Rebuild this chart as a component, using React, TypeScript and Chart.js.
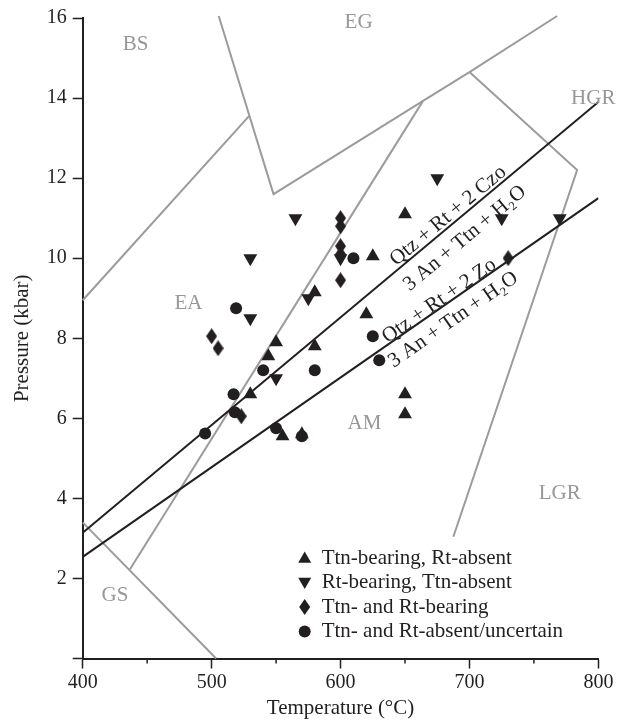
import React, { useEffect, useRef } from 'react';
import { Chart, registerables } from 'chart.js';
Chart.register(...registerables);

// ---- axes ----
const xTickValues = [400, 500, 600, 700, 800];
const xMinorTickValues = [450, 550, 650, 750];
const yTickValues = [0, 2, 4, 6, 8, 10, 12, 14, 16];

// ---- samples (Temperature °C, Pressure kbar) ----
const ttnBearingRtAbsent = [
  { x: 650, y: 11.1 }, { x: 625, y: 10.05 }, { x: 620, y: 8.6 }, { x: 550, y: 7.9 },
  { x: 580, y: 7.8 }, { x: 580, y: 9.15 }, { x: 544, y: 7.55 }, { x: 530, y: 6.6 },
  { x: 555, y: 5.55 }, { x: 570, y: 5.6 }, { x: 650, y: 6.6 }, { x: 650, y: 6.1 },
];
const rtBearingTtnAbsent = [
  { x: 675, y: 12.0 }, { x: 565, y: 11.0 }, { x: 600, y: 10.0 }, { x: 530, y: 10.0 },
  { x: 575, y: 9.0 }, { x: 530, y: 8.5 }, { x: 550, y: 7.0 }, { x: 725, y: 11.0 },
  { x: 770, y: 11.0 },
];
const ttnAndRtBearing = [
  { x: 600, y: 11.0 }, { x: 600, y: 10.8 }, { x: 600, y: 10.3 }, { x: 600, y: 10.1 },
  { x: 600, y: 9.45 }, { x: 500, y: 8.05 }, { x: 505, y: 7.75 }, { x: 523, y: 6.05 },
  { x: 730, y: 10.0 },
];
const ttnAndRtAbsent = [
  { x: 610, y: 10.0 }, { x: 519, y: 8.75 }, { x: 625, y: 8.05 }, { x: 540, y: 7.2 },
  { x: 580, y: 7.2 }, { x: 630, y: 7.45 }, { x: 517, y: 6.6 }, { x: 518, y: 6.15 },
  { x: 495, y: 5.62 }, { x: 550, y: 5.75 }, { x: 570, y: 5.55 },
];

// ---- reaction lines ----
const czoReaction = [{ x: 400, y: 3.14 }, { x: 800, y: 13.9 }];
const zoReaction = [{ x: 400, y: 2.54 }, { x: 800, y: 11.5 }];

// ---- facies boundaries ----
const bsEaBoundary = [{ x: 400, y: 8.95 }, { x: 529, y: 13.55 }];
const egBoundary = [
  { x: 505.5, y: 16.05 }, { x: 548, y: 11.6 }, { x: 664, y: 13.93 },
  { x: 700, y: 14.65 }, { x: 768, y: 16.05 },
];
const hgrBoundary = [{ x: 700, y: 14.65 }, { x: 783.5, y: 12.2 }, { x: 687.5, y: 3.04 }];
const eaAmBoundary = [{ x: 664, y: 13.93 }, { x: 436.7, y: 2.23 }];
const gsBoundary = [{ x: 400, y: 3.4 }, { x: 503.5, y: 0 }];

// ---- facies names ----
const faciesNames = ['BS', 'EG', 'HGR', 'EA', 'AM', 'LGR', 'GS'];
const faciesT = [441, 614, 796, 482, 618.5, 770, 425];
const faciesP = [15.34, 15.9, 13.98, 8.87, 5.88, 4.13, 1.58];

// ---- legend ----
const legendLabels = [
  'Ttn-bearing, Rt-absent',
  'Rt-bearing, Ttn-absent',
  'Ttn- and Rt-bearing',
  'Ttn- and Rt-absent/uncertain',
];

const DARK = '#231f20';
const GRAY = '#9b9b9b';
const LABEL_GRAY = '#979797';
const FONT = '"Liberation Serif", "Times New Roman", serif';

function makeDiamond(w: number, h: number) {
  const c = document.createElement('canvas');
  c.width = w;
  c.height = h;
  const ctx = c.getContext('2d')!;
  ctx.fillStyle = DARK;
  ctx.beginPath();
  ctx.moveTo(w / 2, 0);
  ctx.lineTo(w, h / 2);
  ctx.lineTo(w / 2, h);
  ctx.lineTo(0, h / 2);
  ctx.closePath();
  ctx.fill();
  return c;
}

function drawMarker(ctx: CanvasRenderingContext2D, kind: number, x: number, y: number) {
  ctx.save();
  ctx.fillStyle = DARK;
  ctx.beginPath();
  if (kind === 0) {
    const r = 7.5;
    ctx.moveTo(x, y - r);
    ctx.lineTo(x + r * 0.866, y + r / 2);
    ctx.lineTo(x - r * 0.866, y + r / 2);
  } else if (kind === 1) {
    const r = 7.5;
    ctx.moveTo(x, y + r);
    ctx.lineTo(x + r * 0.866, y - r / 2);
    ctx.lineTo(x - r * 0.866, y - r / 2);
  } else if (kind === 2) {
    ctx.moveTo(x, y - 8);
    ctx.lineTo(x + 5.5, y);
    ctx.lineTo(x, y + 8);
    ctx.lineTo(x - 5.5, y);
  } else {
    ctx.arc(x, y, 6, 0, Math.PI * 2);
  }
  ctx.closePath();
  ctx.fill();
  ctx.restore();
}

const annotationPlugin = {
  id: 'annotations',
  afterDraw(chart: any) {
    const { ctx, chartArea } = chart;
    const xs = chart.scales.x;
    const ys = chart.scales.y;

    // minor ticks on the x axis
    ctx.save();
    ctx.strokeStyle = DARK;
    ctx.lineWidth = 1.5;
    xMinorTickValues.forEach((v) => {
      const px = xs.getPixelForValue(v);
      ctx.beginPath();
      ctx.moveTo(px, chartArea.bottom);
      ctx.lineTo(px, chartArea.bottom + 5);
      ctx.stroke();
    });
    ctx.restore();

    // facies names
    ctx.save();
    ctx.font = `21px ${FONT}`;
    ctx.fillStyle = LABEL_GRAY;
    ctx.textAlign = 'center';
    ctx.textBaseline = 'middle';
    faciesNames.forEach((n, i) => {
      ctx.fillText(n, xs.getPixelForValue(faciesT[i]), ys.getPixelForValue(faciesP[i]));
    });
    ctx.restore();

    // reaction labels along the lines
    const reactionLabel = (line: { x: number; y: number }[], t: number, text: string, d: number) => {
      const p0 = line[0];
      const p1 = line[line.length - 1];
      const x0 = xs.getPixelForValue(p0.x);
      const y0 = ys.getPixelForValue(p0.y);
      const x1 = xs.getPixelForValue(p1.x);
      const y1 = ys.getPixelForValue(p1.y);
      const angle = Math.atan2(y1 - y0, x1 - x0);
      const pv = p0.y + ((t - p0.x) * (p1.y - p0.y)) / (p1.x - p0.x);
      ctx.save();
      ctx.translate(xs.getPixelForValue(t), ys.getPixelForValue(pv));
      ctx.rotate(angle);
      ctx.font = `21px ${FONT}`;
      ctx.fillStyle = DARK;
      ctx.textAlign = 'center';
      ctx.textBaseline = 'middle';
      ctx.fillText(text, 0, -d);
      ctx.restore();
    };
    reactionLabel(czoReaction, 688, 'Qtz + Rt + 2 Czo', 9);
    reactionLabel(czoReaction, 687, '3 An + Ttn + H\u2082O', -19);
    reactionLabel(zoReaction, 679.5, 'Qtz + Rt + 2 Zo', 6.5);
    reactionLabel(zoReaction, 680, '3 An + Ttn + H\u2082O', -17);

    // legend
    ctx.save();
    ctx.font = `21px ${FONT}`;
    ctx.fillStyle = DARK;
    ctx.textAlign = 'left';
    ctx.textBaseline = 'middle';
    const lx = chartArea.left + 222;
    const ly = chartArea.top + 540;
    legendLabels.forEach((lbl, i) => {
      const y = ly + i * 24.5;
      drawMarker(ctx, i, lx, y + (i === 0 ? 1 : i === 1 ? -1 : 0));
      ctx.fillStyle = DARK;
      ctx.fillText(lbl, lx + 17, y);
    });
    ctx.restore();
  },
};

export default function App() {
  const canvasRef = useRef<HTMLCanvasElement | null>(null);

  useEffect(() => {
    const canvas = canvasRef.current;
    if (!canvas) return;
    const diamond = makeDiamond(11, 16);
    const grayLine = (data: { x: number; y: number }[]) => ({
      type: 'line' as const,
      data,
      borderColor: GRAY,
      borderWidth: 2,
      pointRadius: 0,
      showLine: true,
      fill: false,
      clip: false as any,
      order: 5,
    });
    const blackLine = (data: { x: number; y: number }[]) => ({
      type: 'line' as const,
      data,
      borderColor: DARK,
      borderWidth: 2,
      pointRadius: 0,
      showLine: true,
      fill: false,
      order: 4,
    });
    const pointSet = (label: string, data: { x: number; y: number }[], style: any, radius: number, rotation = 0) => ({
      label,
      data,
      pointStyle: style,
      pointRadius: radius,
      pointRotation: rotation,
      pointBackgroundColor: DARK,
      pointBorderColor: DARK,
      pointBorderWidth: 0,
      showLine: false,
      order: 1,
    });

    const chart = new Chart(canvas, {
      type: 'scatter',
      data: {
        datasets: [
          grayLine(bsEaBoundary),
          grayLine(egBoundary),
          grayLine(hgrBoundary),
          grayLine(eaAmBoundary),
          grayLine(gsBoundary),
          blackLine(czoReaction),
          blackLine(zoReaction),
          pointSet(legendLabels[0], ttnBearingRtAbsent, 'triangle', 8),
          pointSet(legendLabels[1], rtBearingTtnAbsent, 'triangle', 8, 180),
          pointSet(legendLabels[2], ttnAndRtBearing, diamond, 8),
          pointSet(legendLabels[3], ttnAndRtAbsent, 'circle', 6),
        ] as any,
      },
      options: {
        responsive: false,
        animation: false,
        devicePixelRatio: 1,
        layout: { padding: { top: 16.4, right: 18.6, left: 0, bottom: 0 } },
        plugins: { legend: { display: false }, tooltip: { enabled: false } },
        scales: {
          x: {
            type: 'linear',
            min: 400,
            max: 800,
            afterBuildTicks: (s: any) => {
              s.ticks = xTickValues.map((v) => ({ value: v }));
            },
            afterFit: (s: any) => {
              s.height = 63.5;
            },
            ticks: { font: { family: FONT, size: 20 }, color: DARK, padding: 2, maxRotation: 0 },
            grid: { drawOnChartArea: false, drawTicks: true, tickLength: 10, tickColor: DARK, tickWidth: 1.5 },
            border: { color: DARK, width: 2 },
            title: {
              display: true,
              text: 'Temperature (°C)',
              font: { family: FONT, size: 21 },
              color: DARK,
              padding: { top: 0, bottom: 1 },
            },
          },
          y: {
            type: 'linear',
            min: 0,
            max: 16,
            afterBuildTicks: (s: any) => {
              s.ticks = yTickValues.map((v) => ({ value: v }));
            },
            afterFit: (s: any) => {
              s.width = 82.7;
            },
            ticks: {
              font: { family: FONT, size: 20 },
              color: DARK,
              padding: 6,
              callback: (v: any) => (v === 0 ? '' : String(v)),
            },
            grid: { drawOnChartArea: false, drawTicks: true, tickLength: 10, tickColor: DARK, tickWidth: 1.5 },
            border: { color: DARK, width: 2 },
            title: {
              display: true,
              text: 'Pressure (kbar)',
              font: { family: FONT, size: 21 },
              color: DARK,
              padding: { top: 10, bottom: 0 },
            },
          },
        },
      },
      plugins: [annotationPlugin],
    });
    return () => chart.destroy();
  }, []);

  return (
    <div style={{ position: 'fixed', left: 0, top: 0, width: 617, height: 722, background: '#fff' }}>
      <canvas ref={canvasRef} width={617} height={722} style={{ display: 'block' }} />
    </div>
  );
}
